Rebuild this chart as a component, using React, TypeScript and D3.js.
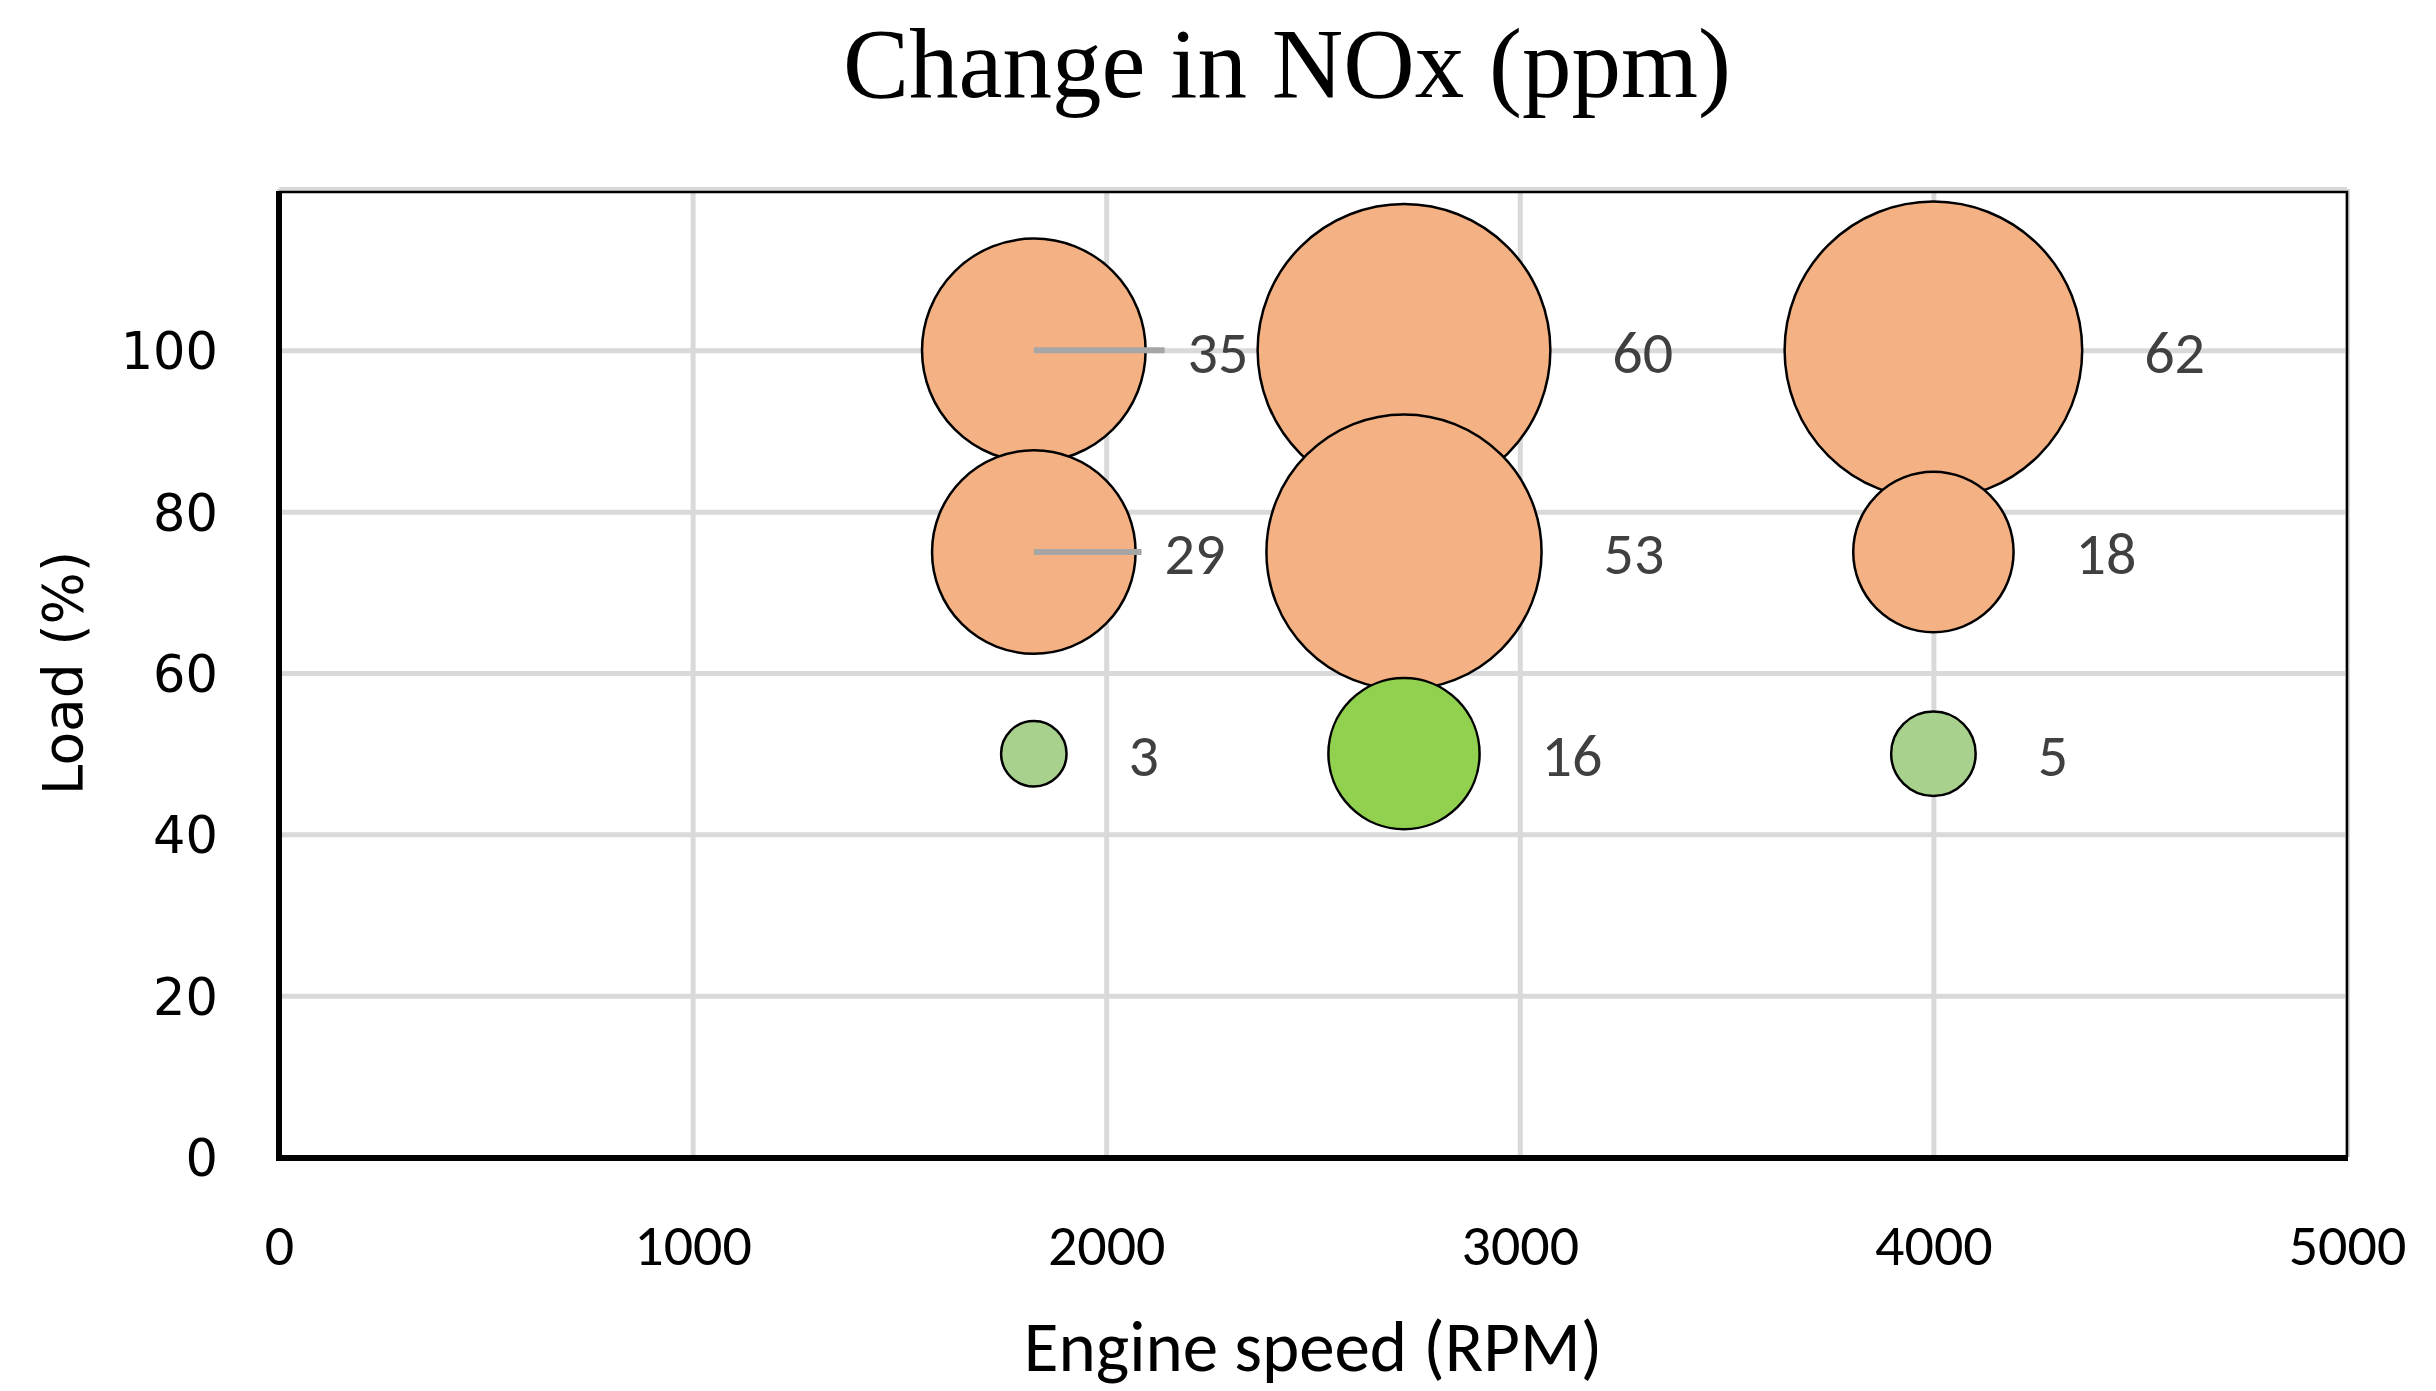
import { useEffect, useRef } from 'react'
import * as d3 from 'd3'

// engine speed (RPM) of the three test points
const speeds = [1825, 2720, 4000]
// load rows (%)
const loads = [100, 75, 50]
// change in NOx (ppm), one array per load row, in speed order
const nox100 = [35, 60, 62]
const nox75 = [29, 53, 18]
const nox50 = [3, 16, 5]

const xTicks = [0, 1000, 2000, 3000, 4000, 5000]
const yTicks = [0, 20, 40, 60, 80, 100]
const yGrid = [0, 20, 40, 60, 80, 100, 120]

const width = 2436
const height = 1391
const LEFT = 279
const RIGHT = 2347
const TOP = 189
const BOTTOM = 1157

const ORANGE = '#F4B183'
const GREEN = '#92D050'
const LIGHT_GREEN = '#A9D18E'
const CALIBRI = 'Carlito, Calibri, Lato, sans-serif'

// labels Excel had dragged in towards the bubble, with a leader line
const leaderGap: Record<number, number> = { 35: 42, 29: 29 }

function App() {
  const ref = useRef<SVGSVGElement>(null)

  useEffect(() => {
    drawChart()
  }, [])

  const drawChart = () => {
    const svg = d3.select(ref.current)
    svg.selectAll('*').remove()

    const xScale = d3.scaleLinear().domain([0, 5000]).range([LEFT, RIGHT])
    const yScale = d3.scaleLinear().domain([0, 120]).range([BOTTOM, TOP])
    const rScale = d3.scaleSqrt().domain([0, 62]).range([0, 148.8])

    const rows = [nox100, nox75, nox50]
    const points = rows.flatMap((row, i) =>
      row.map((v, j) => ({ speed: speeds[j], load: loads[i], value: v }))
    )
    const fillFor = (d: any) =>
      d.load > 60 ? ORANGE : d.value > 10 ? GREEN : LIGHT_GREEN

    svg.append('rect').attr('width', width).attr('height', height).attr('fill', '#fff')

    // grid
    svg
      .append('g')
      .attr('transform', `translate(0,${BOTTOM})`)
      .call(
        d3
          .axisBottom(xScale)
          .tickValues(xTicks)
          .tickSize(-(BOTTOM - TOP))
          .tickFormat('' as any)
      )
      .call((g) => g.select('.domain').remove())
      .call((g) => g.selectAll('line').attr('stroke', '#d9d9d9').attr('stroke-width', 5))
    svg
      .append('g')
      .attr('transform', `translate(${LEFT},0)`)
      .call(
        d3
          .axisLeft(yScale)
          .tickValues(yGrid)
          .tickSize(-(RIGHT - LEFT))
          .tickFormat('' as any)
      )
      .call((g) => g.select('.domain').remove())
      .call((g) => g.selectAll('line').attr('stroke', '#d9d9d9').attr('stroke-width', 5))

    // plot border + heavy axes
    svg
      .append('path')
      .attr('d', `M${LEFT},${TOP + 3}H${RIGHT}V${BOTTOM}`)
      .attr('fill', 'none')
      .attr('stroke', '#000')
      .attr('stroke-width', 2.5)
    svg
      .append('path')
      .attr('d', `M${LEFT},${TOP + 2}V${BOTTOM + 1}H${RIGHT + 1}`)
      .attr('fill', 'none')
      .attr('stroke', '#000')
      .attr('stroke-width', 6)

    // bubbles, top row first so lower rows sit on top
    svg
      .append('g')
      .selectAll('circle')
      .data(points)
      .join('circle')
      .attr('cx', (d) => xScale(d.speed))
      .attr('cy', (d) => yScale(d.load))
      .attr('r', (d) => rScale(d.value))
      .attr('fill', fillFor)
      .attr('stroke', '#000')
      .attr('stroke-width', 2.5)

    const labelX = (d: any) =>
      xScale(d.speed) + rScale(d.value) + (leaderGap[d.value] ?? 62)

    svg
      .append('g')
      .selectAll('line')
      .data(points.filter((d) => leaderGap[d.value] !== undefined))
      .join('line')
      .attr('x1', (d) => xScale(d.speed))
      .attr('x2', (d) => labelX(d) - 23)
      .attr('y1', (d) => yScale(d.load))
      .attr('y2', (d) => yScale(d.load))
      .attr('stroke', '#a6a6a6')
      .attr('stroke-width', 6)

    svg
      .append('g')
      .selectAll('text')
      .data(points)
      .join('text')
      .attr('x', labelX)
      .attr('y', (d) => yScale(d.load))
      .attr('dy', '0.37em')
      .attr('font-family', CALIBRI)
      .attr('font-size', 60)
      .attr('fill', '#404040')
      .text((d) => d.value)

    // tick labels
    const xAxis = svg
      .append('g')
      .attr('transform', `translate(0,${BOTTOM})`)
      .call(
        d3.axisBottom(xScale).tickValues(xTicks).tickSize(0).tickFormat(d3.format('d'))
      )
    xAxis.select('.domain').remove()
    xAxis
      .selectAll('text')
      .attr('y', 108)
      .attr('dy', null)
      .attr('font-family', CALIBRI)
      .attr('font-size', 58)
      .attr('fill', '#000')

    const yAxis = svg
      .append('g')
      .attr('transform', `translate(${LEFT},0)`)
      .call(d3.axisLeft(yScale).tickValues(yTicks).tickSize(0).tickPadding(61))
    yAxis.select('.domain').remove()
    yAxis
      .selectAll('text')
      .attr('dy', '0.36em')
      .attr('font-family', 'DejaVu Sans, Verdana, sans-serif')
      .attr('font-size', 51)
      .attr('fill', '#000')

    // titles
    svg
      .append('text')
      .attr('x', 1287)
      .attr('y', 97)
      .attr('text-anchor', 'middle')
      .attr('font-family', '"Liberation Serif", "Times New Roman", serif')
      .attr('font-size', 99)
      .attr('fill', '#000')
      .text('Change in NOx (ppm)')
    svg
      .append('text')
      .attr('x', (LEFT + RIGHT) / 2)
      .attr('y', 1371)
      .attr('text-anchor', 'middle')
      .attr('font-family', CALIBRI)
      .attr('font-size', 71)
      .attr('fill', '#000')
      .text('Engine speed (RPM)')
    svg
      .append('text')
      .attr('transform', `translate(82,${(TOP + BOTTOM) / 2}) rotate(-90)`)
      .attr('text-anchor', 'middle')
      .attr('font-family', 'DejaVu Sans, Verdana, sans-serif')
      .attr('font-size', 55)
      .attr('fill', '#000')
      .text('Load (%)')
  }

  return (
    <svg
      ref={ref}
      width={width}
      height={height}
      style={{ position: 'absolute', left: 0, top: 0 }}
    />
  )
}

export default App
